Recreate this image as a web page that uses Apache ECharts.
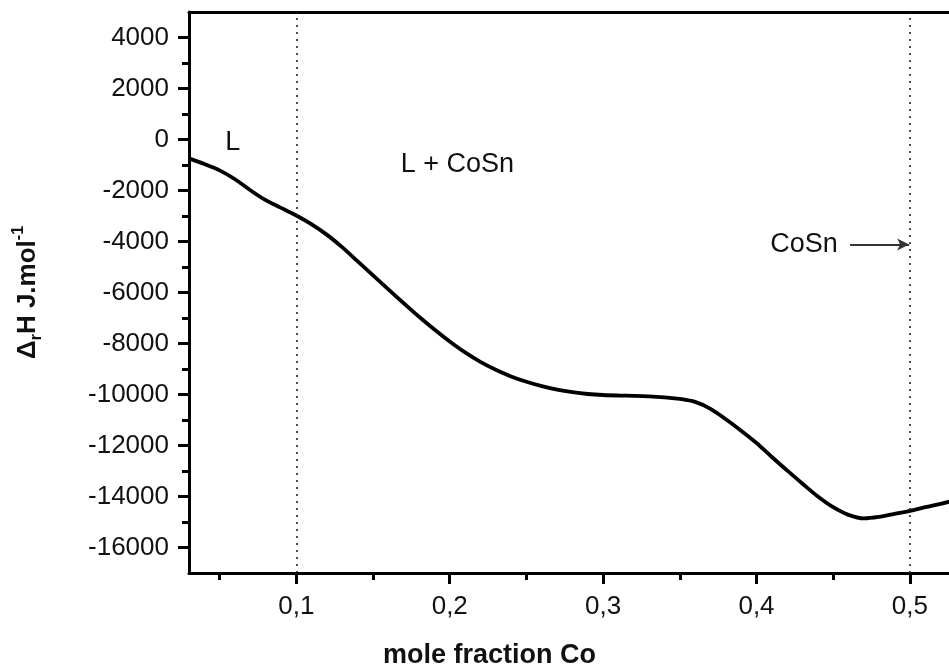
<!DOCTYPE html>
<html>
<head>
<meta charset="utf-8">
<script src="https://cdn.jsdelivr.net/npm/echarts@6/dist/echarts.min.js"></script>
<style>
html,body{margin:0;padding:0;background:#fff;}
#chart{width:949px;height:669px;}
</style>
</head>
<body>
<div id="chart"></div>
<script>
// ---- data ----
const moleFraction = [0.030,0.040,0.050,0.060,0.070,0.080,0.090,0.100,0.110,0.120,0.130,0.140,0.150,0.160,0.170,0.180,0.190,0.200,0.210,0.220,0.230,0.240,0.250,0.260,0.270,0.280,0.290,0.300,0.310,0.320,0.330,0.340,0.350,0.360,0.370,0.380,0.390,0.400,0.410,0.420,0.430,0.440,0.450,0.460,0.470,0.480,0.490,0.500,0.510,0.520,0.526];
const enthalpy = [-740,-960,-1210,-1560,-1990,-2380,-2680,-2980,-3330,-3740,-4230,-4780,-5330,-5880,-6420,-6950,-7450,-7920,-8350,-8720,-9030,-9290,-9500,-9670,-9810,-9910,-9980,-10020,-10040,-10050,-10070,-10110,-10170,-10290,-10560,-10970,-11420,-11900,-12450,-12980,-13500,-14000,-14420,-14720,-14860,-14800,-14680,-14560,-14420,-14290,-14200];
const xMajorTicks = [0.1,0.2,0.3,0.4,0.5];
const xMinorTicks = [0.05,0.15,0.25,0.35,0.45];
const yMajorTicks = [-16000,-14000,-12000,-10000,-8000,-6000,-4000,-2000,0,2000,4000];
const yMinorTicks = [-15000,-13000,-11000,-9000,-7000,-5000,-3000,-1000,1000,3000];
const phaseBoundaries = [0.1, 0.5];
const annotTexts = ['L', 'L + CoSn', 'CoSn'];
const annotX = [0.0585, 0.205, 0.431];
const annotY = [-100, -970, -4100];
const arrowFrom = [0.461, -4120];
const arrowTo = [0.4995, -4120];
const xMin = 0.03, xMax = 0.5255, yMin = -17000, yMax = 5000;

const chart = echarts.init(document.getElementById('chart'), null, {renderer:'canvas'});
const FONT = 'Liberation Sans, Arial, sans-serif';
const lineData = moleFraction.map((x,i)=>[x, enthalpy[i]]);

const option = {
  animation: false,
  backgroundColor: '#fff',
  grid: {left: 189, right: 0, top: 12, bottom: 96, containLabel: false},
  graphic: [
    {type: 'text', left: 490 - 107, top: 642, silent: true,
     style: {text: 'mole fraction Co', fontSize: 27, fontWeight: 'bold', fill: '#111', fontFamily: FONT}}
  ],
  xAxis: [
    {
      type: 'value', position: 'bottom', min: xMin, max: xMax,
      axisLine: {show: true, onZero: false, lineStyle: {color: '#000', width: 3}},
      axisTick: {show: true, customValues: xMajorTicks, length: 11, lineStyle: {color:'#000', width: 3}},
      axisLabel: {show: true, customValues: xMajorTicks, margin: 21, fontSize: 26, color: '#111', fontFamily: FONT,
        formatter: v => String(Math.round(v*10)/10).replace('.', ',')},
      splitLine: {show: false}
    },
    {
      type: 'value', position: 'bottom', min: xMin, max: xMax,
      axisLine: {show: false, onZero: false},
      axisTick: {show: true, customValues: xMinorTicks, length: 7, lineStyle: {color:'#000', width: 3}},
      axisLabel: {show: false},
      splitLine: {show: false}
    },
    {
      type: 'value', position: 'top', min: xMin, max: xMax,
      axisLine: {show: true, onZero: false, lineStyle: {color: '#000', width: 3}},
      axisTick: {show: false}, axisLabel: {show: false}, splitLine: {show: false}
    }
  ],
  yAxis: [
    {
      type: 'value', position: 'left', min: yMin, max: yMax,
      axisLine: {show: true, onZero: false, lineStyle: {color: '#000', width: 3}},
      axisTick: {show: true, customValues: yMajorTicks, length: 11, lineStyle: {color:'#000', width: 3}},
      axisLabel: {show: true, customValues: yMajorTicks, margin: 20, fontSize: 26, color: '#111', fontFamily: FONT,
        formatter: v => String(v)},
      splitLine: {show: false},
      name: '{d|Δ}{sub|r}{m|H J.mol}{sup|-1}', nameLocation: 'middle', nameRotate: 90, nameGap: 144,
      nameTextStyle: {
        fontFamily: FONT, color: '#111',
        rich: {
          d: {fontSize: 26, fontWeight: 'bold', lineHeight: 34, fontFamily: FONT, color:'#111'},
          m: {fontSize: 26, fontWeight: 'bold', lineHeight: 34, fontFamily: FONT, color:'#111'},
          sub: {fontSize: 16, fontWeight: 'bold', lineHeight: 16, verticalAlign: 'bottom', fontFamily: FONT, color:'#111'},
          sup: {fontSize: 16, fontWeight: 'bold', lineHeight: 16, verticalAlign: 'top', fontFamily: FONT, color:'#111'}
        }
      }
    },
    {
      type: 'value', position: 'left', min: yMin, max: yMax,
      axisLine: {show: false, onZero: false},
      axisTick: {show: true, customValues: yMinorTicks, length: 7, lineStyle: {color:'#000', width: 3}},
      axisLabel: {show: false}, splitLine: {show: false}
    }
  ],
  series: [
    {
      type: 'line', xAxisIndex: 0, yAxisIndex: 0,
      data: lineData, showSymbol: false, smooth: 0.35,
      lineStyle: {color: '#000', width: 3.8},
      clip: true,
      markLine: {
        silent: true, animation: false,
        symbol: 'none',
        label: {show: false},
        data: [
          ...phaseBoundaries.map(x => ({xAxis: x, symbol: 'none',
            lineStyle: {type: [2, 5], color: '#222', width: 1.6}, label: {show: false}})),
          [
            {coord: arrowFrom, symbol: 'none', lineStyle: {type: 'solid', color: '#333', width: 1.8}, label:{show:false}},
            {coord: arrowTo, symbol: 'arrow', symbolSize: [9, 12]}
          ]
        ]
      }
    },
    {
      type: 'scatter', xAxisIndex: 0, yAxisIndex: 0,
      data: annotTexts.map((t,i)=>({value: [annotX[i], annotY[i]], name: t})),
      symbolSize: 0, silent: true,
      itemStyle: {opacity: 1},
      label: {show: true, position: 'inside', formatter: p => p.name, fontSize: 27, color: '#111', opacity: 1, fontFamily: FONT}
    }
  ]
};
chart.setOption(option);
</script>
</body>
</html>
